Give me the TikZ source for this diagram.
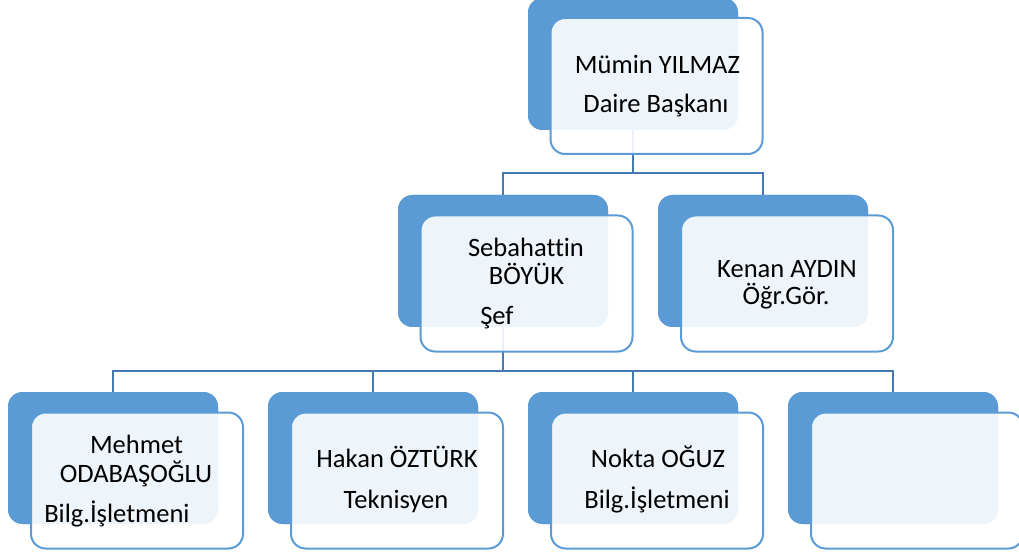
\documentclass[tikz,border=0pt]{standalone}
\usepackage{fontspec}
\setmainfont{Carlito}[Ligatures={NoCommon}]
\definecolor{backblue}{RGB}{91,155,213}
\definecolor{edgeblue}{RGB}{91,155,213}
\definecolor{lineblue}{RGB}{72,122,178}
\begin{document}
\begin{tikzpicture}[x=0.75pt,y=-0.75pt,
  back/.style={rectangle,rounded corners=11pt,fill=backblue,draw=none,minimum width=157.5pt,minimum height=99pt,inner sep=0pt},
  front/.style={rectangle,rounded corners=11pt,fill=white,fill opacity=0.9,draw=edgeblue,draw opacity=1,line width=1.5pt,minimum width=159pt,minimum height=102pt,inner sep=0pt},
  conn/.style={draw=lineblue,line width=1.6pt},
  lbl/.style={anchor=base,inner sep=0pt,font=\fontsize{19.9pt}{24pt}\selectfont,text=black}]
\useasboundingbox (0,0) rectangle (1019,555);
\clip (0,0) rectangle (1019,555);
% back rectangles
\node[back] (b1) at (633,64) {};
\node[back] (b2) at (503,261) {};
\node[back] (b3) at (763,261) {};
\node[back] (b4) at (113,458) {};
\node[back] (b5) at (373,458) {};
\node[back] (b6) at (633,458) {};
\node[back] (b7) at (893,458) {};
% connectors
\coordinate (bus1) at (633,173);
\coordinate (bus2) at (503,371);
\draw[conn] (b1.south) -- (bus1);
\draw[conn] (bus1) -| (b2.north);
\draw[conn] (bus1) -| (b3.north);
\draw[conn] (b2.south) -- (bus2);
\draw[conn] (bus2) -| (b4.north);
\draw[conn] (bus2) -| (b5.north);
\draw[conn] (bus2) -| (b6.north);
\draw[conn] (bus2) -| (b7.north);
% redraw back rectangles over connector ends
\node[back] at (b1) {};
\node[back] at (b2) {};
\node[back] at (b3) {};
\node[back] at (b4) {};
\node[back] at (b5) {};
\node[back] at (b6) {};
\node[back] at (b7) {};
% front boxes
\node[front] (f1) at (656.5,86) {};
\node[front] (f2) at (526.5,283.5) {};
\node[front] (f3) at (787,283.5) {};
\node[front] (f4) at (137,480.5) {};
\node[front] (f5) at (397,480.5) {};
\node[front] (f6) at (657,480.5) {};
\node[front] (f7) at (917,480.5) {};
% texts
\node[lbl] (t1a) at (657.5,74) {Mümin YILMAZ};
\node[lbl] (t1b) at (656,113) {Daire Başkanı};
\node[lbl] (t2a) at (526,257) {Sebahattin};
\node[lbl] (t2b) at (526.5,285) {BÖYÜK};
\node[lbl,anchor=base west] (t2c) at (480,325) {Şef};
\node[lbl] (t3a) at (787,278) {Kenan AYDIN};
\node[lbl] (t3b) at (786,305) {Öğr.Gör.};
\node[lbl] (t4a) at (136.5,453) {Mehmet};
\node[lbl] (t4b) at (136,482) {ODABAŞOĞLU};
\node[lbl,anchor=base west] (t4c) at (44,522) {Bilg.İşletmeni};
\node[lbl] (t5a) at (397,467) {Hakan ÖZTÜRK};
\node[lbl] (t5b) at (396,508) {Teknisyen};
\node[lbl] (t6a) at (658,467) {Nokta OĞUZ};
\node[lbl] (t6b) at (657,508) {Bilg.İşletmeni};
\end{tikzpicture}
\end{document}
